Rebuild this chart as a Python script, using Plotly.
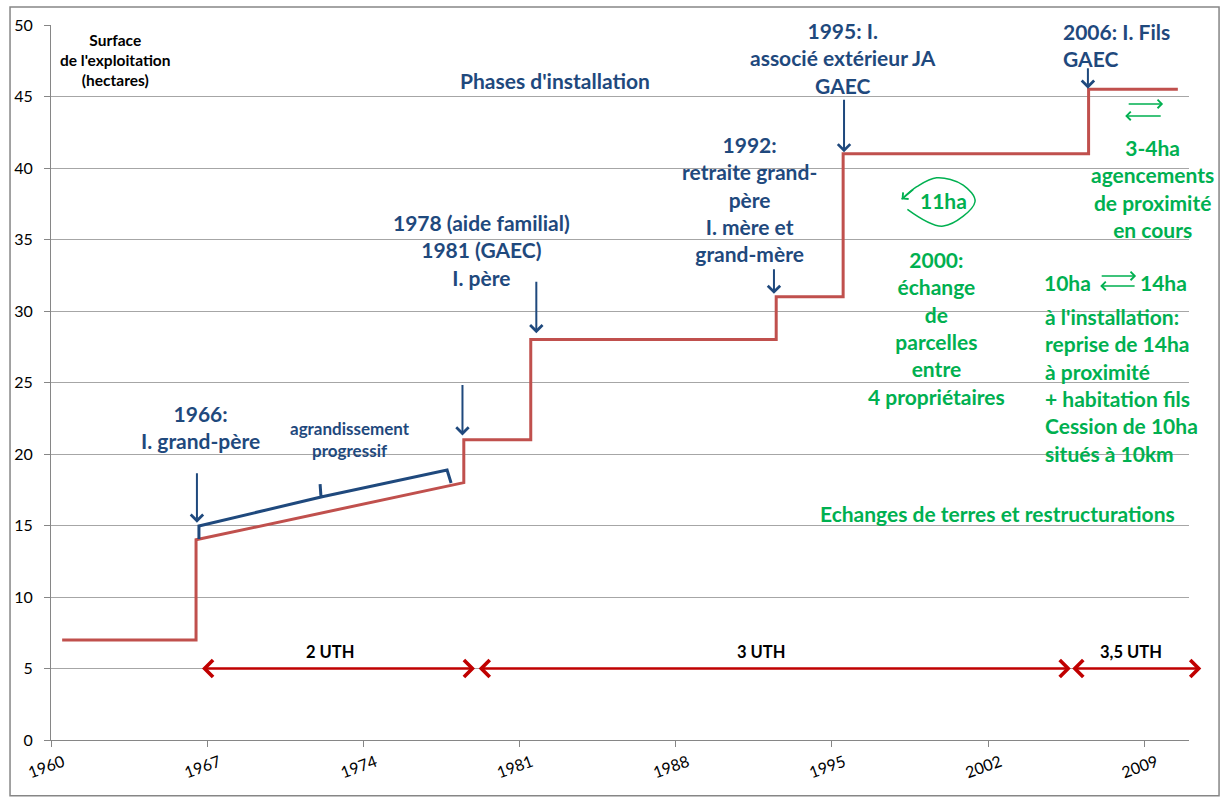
import plotly.graph_objects as go

# ---------------- data ----------------
years = [1960, 1966, 1966, 1978, 1978, 1981, 1981, 1992, 1992, 1995, 1995, 2006, 2006, 2010]
surface_ha = [7, 7, 14, 18, 21, 21, 28, 28, 31, 31, 41, 41, 45.5, 45.5]
x_tick_years = [1960, 1967, 1974, 1981, 1988, 1995, 2002, 2009]
y_tick_values = [0, 5, 10, 15, 20, 25, 30, 35, 40, 45, 50]

uth_labels = ["2 UTH", "3 UTH", "3,5 UTH"]
uth_start = [1966.7, 1979.1, 2005.7]
uth_end = [1979.0, 2005.7, 2011.55]
uth_label_x = [1972.5, 1991.8, 2008.4]
uth_level = 5

BLUE = "#1F497D"
GREEN = "#00B050"
RED_LINE = "#C0504D"
RED_ARROW = "#C00000"
GRID = "#A6A6A6"
AXIS = "#868686"
FONT = "Lato"

# category centre (Excel category axis): value plotted at year + 0.5
x_pos = [y + 0.5 for y in years]

fig = go.Figure()
fig.add_trace(go.Scatter(
    x=x_pos, y=surface_ha, mode="lines",
    line=dict(color=RED_LINE, width=3),
    hoverinfo="skip", showlegend=False))

# loop around "11ha" (decoration)
loop_x = [1998.38, 1999.99, 2001.41, 2000.88, 1999.69, 1998.80, 1998.12]
loop_y = [37.11, 35.94, 37.64, 38.81, 39.32, 38.69, 37.81]
fig.add_trace(go.Scatter(
    x=loop_x, y=loop_y, mode="lines",
    line=dict(color=GREEN, width=1.5, shape="spline", smoothing=1.0),
    hoverinfo="skip", showlegend=False))

annotations = []

def text(t, x, y, size=21, color=BLUE, xanchor="center", align="center", bold=True):
    annotations.append(dict(
        text=t, x=x, y=y, xref="x", yref="y", showarrow=False,
        xanchor=xanchor, yanchor="middle", align=align,
        font=dict(family=FONT, size=size, color=color, weight=700 if bold else 400)))

def arrow(x, y, ax, ay, color, width=2, size=1.2, head=4, both=False, axref="pixel"):
    d = dict(text="", x=x, y=y, xref="x", yref="y", showarrow=True,
             arrowhead=head, arrowsize=size, arrowwidth=width, arrowcolor=color,
             standoff=0, startstandoff=0)
    if axref == "data":
        d.update(ax=ax, ay=ay, axref="x", ayref="y")
    else:
        d.update(ax=ax, ay=ay)
    if both:
        d.update(arrowside="end+start", startarrowhead=head, startarrowsize=size)
    annotations.append(d)

# --- texts (blue) ---
text("Surface<br>de l'exploitation<br>(hectares)", 1962.9, 47.55, size=15.5, color="#000000")
text("Phases d'installation", 1982.6, 46.15)
text("1966:<br>I. grand-père", 1966.7, 21.9)
text("agrandissement<br>progressif", 1973.4, 20.98, size=17)
text("1978 (aide familial)<br>1981 (GAEC)<br>I. père", 1979.3, 34.3)
text("1992:<br>retraite grand-<br>père<br>I. mère et<br>grand-mère", 1991.3, 37.8)
text("1995: I.<br>associé extérieur JA<br>GAEC", 1995.5, 47.7)
text("2006: I. Fils<br>GAEC", 2005.27, 48.6, xanchor="left", align="left")

# --- blue arrows ---
for (bx, by, blen) in [(1966.54, 15.2, 51), (1978.44, 21.3, 52), (1981.75, 28.45, 53),
                       (1992.4, 31.2, 26), (1995.54, 41.1, 54), (2006.47, 45.55, 22)]:
    arrow(bx, by, 0, -blen, BLUE, width=2, size=1.2)

# --- texts (green) ---
text("11ha", 1999.98, 37.76, color=GREEN)
text("2000:<br>échange<br>de<br>parcelles<br>entre<br>4 propriétaires", 1999.7, 28.8, color=GREEN)
text("3-4ha<br>agencements<br>de proximité<br>en cours", 2009.35, 38.6, color=GREEN)
text("10ha", 2005.54, 31.96, color=GREEN)
text("14ha", 2009.84, 31.96, color=GREEN)
text("à l'installation:<br>reprise de 14ha<br>à proximité<br>+ habitation fils<br>Cession de 10ha<br>situés à 10km",
     2004.46, 24.83, color=GREEN, xanchor="left", align="left")
text("Echanges de terres et restructurations", 2002.4, 15.87, color=GREEN)

# green exchange arrows
arrow(2009.84, 44.48, 2008.23, 44.48, GREEN, width=1.5, size=1.1, axref="data")
arrow(2008.14, 43.64, 2009.80, 43.64, GREEN, width=1.5, size=1.1, axref="data")
arrow(2008.63, 32.45, 2007.02, 32.45, GREEN, width=1.5, size=1.1, axref="data")
arrow(2007.02, 31.75, 2008.63, 31.75, GREEN, width=1.5, size=1.1, axref="data")
# arrowhead of the 11ha loop
arrow(1998.12, 37.81, 13, -11, GREEN, width=1.5, size=1.1)

# --- UTH arrows ---
for lab, xs, xe, lx in zip(uth_labels, uth_start, uth_end, uth_label_x):
    arrow(xe, uth_level, xs, uth_level, RED_ARROW, width=2.5, size=1.3, both=True, axref="data")
    text(lab, lx, 6.15, size=16.5, color="#000000")

shapes = [
    # bracket "agrandissement progressif"
    dict(type="path", xref="x", yref="y",
         path="M 1966.63,14.06 L 1966.63,14.97 L 1972.10,16.99 L 1972.06,17.90 "
              "M 1972.10,16.99 L 1977.75,18.88 L 1977.93,17.97",
         line=dict(color=BLUE, width=3)),
    # chart frame
    dict(type="rect", xref="paper", yref="paper", x0=-0.036, x1=1.0264, y0=-0.078, y1=1.0252,
         line=dict(color=AXIS, width=1.5), layer="below"),
]

fig.update_layout(
    width=1224, height=799,
    margin=dict(l=51, r=35, t=25, b=59),
    paper_bgcolor="white", plot_bgcolor="white",
    font=dict(family=FONT, color="#000000"),
    annotations=annotations, shapes=shapes,
    showlegend=False,
    xaxis=dict(range=[1960, 2011], tickmode="array", tickvals=x_tick_years,
               ticktext=[str(v) for v in x_tick_years],
               ticks="outside", ticklen=6, tickcolor=AXIS, showline=True, linecolor=AXIS,
               linewidth=1, showgrid=False, zeroline=False, tickangle=-20,
               ticklabelshift=12,
               tickfont=dict(family=FONT, size=16, color="#000000")),
    yaxis=dict(range=[0, 50], tickmode="array", tickvals=y_tick_values,
               ticks="outside", ticklen=6, tickcolor=AXIS, showline=True, linecolor=AXIS,
               linewidth=1, showgrid=True, gridcolor=GRID, gridwidth=1, zeroline=False,
               ticklabelstandoff=8,
               tickfont=dict(family=FONT, size=16, color="#000000")),
)

fig.write_html("out.html", config={"displayModeBar": False},
               post_script="document.body.style.margin='0';document.body.style.padding='0';")
